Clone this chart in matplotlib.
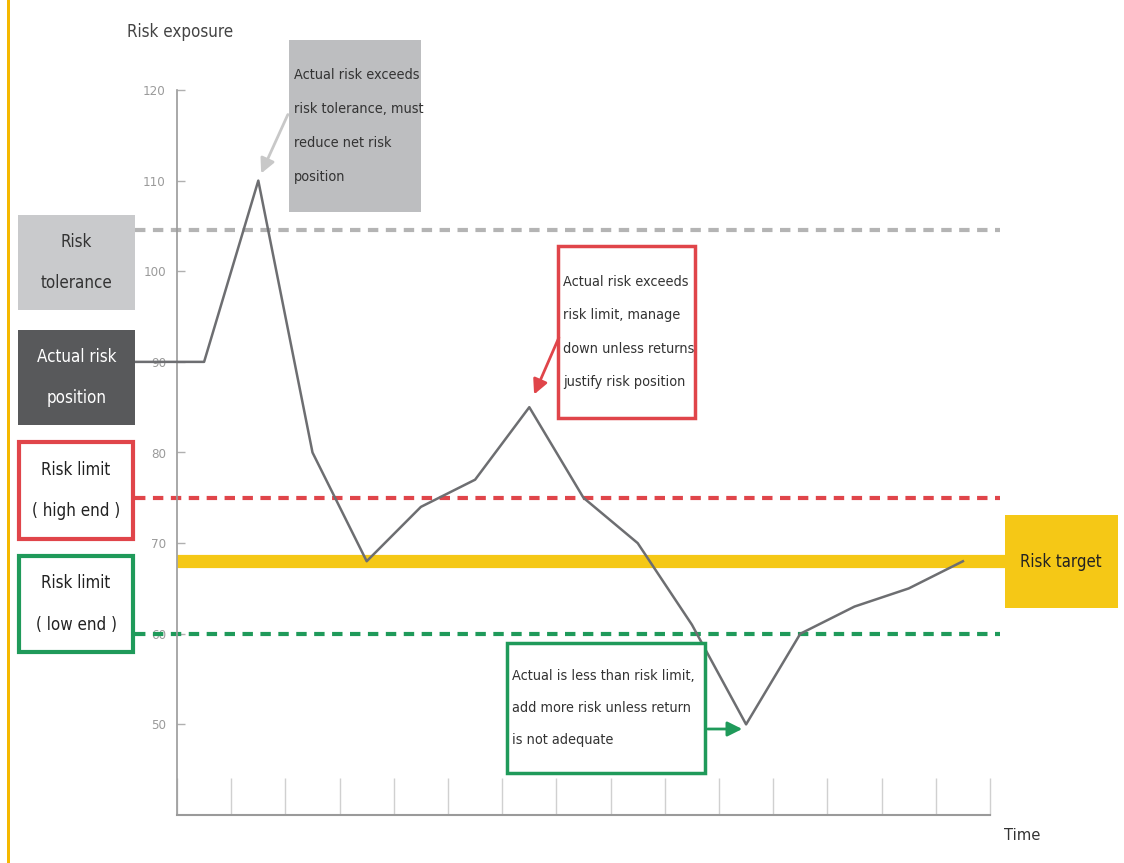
import matplotlib
matplotlib.use("Agg")
import matplotlib.pyplot as plt
from matplotlib.patches import Rectangle, FancyArrowPatch

plt.rcParams['font.family'] = ['DejaVu Sans']
plt.rcParams['font.stretch'] = 'condensed'

# data
time_pos = [-0.77, 0.5, 1.5, 2.5, 3.5, 4.5, 5.5, 6.5, 7.5, 8.5, 9.5, 10.5, 11.5, 12.5, 13.5, 14.5]
risk_exposure = [90, 90, 110, 80, 68, 74, 77, 85, 75, 70, 61, 50, 60, 63, 65, 68]
risk_tolerance = 104.5
limit_high = 75
limit_low = 60
risk_target = 68
y_ticks = [50, 60, 70, 80, 90, 100, 110, 120]

W, H = 1124, 863
fig = plt.figure(figsize=(W / 100, H / 100), dpi=100)


def fx(px):
    return px / W


def fy(py):
    return 1 - py / H


ax = fig.add_axes([fx(177), fy(815), fx(990) - fx(177), fy(90) - fy(815)])
ax.set_xlim(0, 15)
ax.set_ylim(40, 120)

for s in ['top', 'right']:
    ax.spines[s].set_visible(False)
ax.spines['left'].set_color('#9a9a9a')
ax.spines['bottom'].set_color('#9a9a9a')
ax.spines['left'].set_linewidth(1.2)
ax.spines['bottom'].set_linewidth(1.5)

ax.set_xticks(range(16))
ax.set_xticklabels([])
ax.tick_params(axis='x', direction='in', length=27, color='#d0d0d0', width=1)
ax.set_yticks(y_ticks)
ax.set_yticklabels([str(v) for v in y_ticks], fontsize=9.5, color='#9a9a9a')
ax.tick_params(axis='y', direction='in', length=6, color='#b0b0b0', width=1, pad=8)

x_end = 15.18
ax.hlines(risk_tolerance, -0.77, x_end, colors='#b4b4b4', linewidth=3,
          linestyles=(0, (2.5, 1.8)), clip_on=False, zorder=2)
ax.hlines(limit_high, -0.77, x_end, colors='#e0454a', linewidth=3,
          linestyles=(0, (2.5, 1.8)), clip_on=False, zorder=2)
ax.hlines(limit_low, -0.77, x_end, colors='#1f9a5a', linewidth=3,
          linestyles=(0, (2.5, 1.8)), clip_on=False, zorder=2)
ax.hlines(risk_target, 0, 15.3, colors='#f5c816', linewidth=9.5, clip_on=False, zorder=2)

ax.plot(time_pos, risk_exposure, color='#6d6e71', linewidth=1.8, clip_on=False, zorder=4)

# left-side legend boxes
boxes = [
    (18, 215, 117, 95, '#c9cacc', None, 'Risk\ntolerance', '#333333'),
    (18, 330, 117, 95, '#58595b', None, 'Actual risk\nposition', 'white'),
    (19, 442, 114, 97, 'white', '#e0454a', 'Risk limit\n( high end )', '#222222'),
    (19, 556, 114, 96, 'white', '#1f9a5a', 'Risk limit\n( low end )', '#222222'),
]
for x, y, w, h, fc, ec, label, tc in boxes:
    fig.patches.append(Rectangle((fx(x), fy(y + h)), fx(w), h / H, transform=fig.transFigure,
                                 facecolor=fc, edgecolor=ec if ec else 'none',
                                 linewidth=3 if ec else 0, zorder=3))
    fig.text(fx(x + w / 2), fy(y + h / 2), label, ha='center', va='center', fontsize=12.2,
             color=tc, linespacing=2.7, zorder=5)

# risk target tag on the right
fig.patches.append(Rectangle((fx(1005), fy(608)), fx(113), 93 / H, transform=fig.transFigure,
                             facecolor='#f5c816', edgecolor='none', zorder=3))
fig.text(fx(1061), fy(562), 'Risk target', ha='center', va='center', fontsize=12,
         color='#222222', zorder=5)

# annotation boxes
notes = [
    (289, 40, 132, 172, '#bdbec0', None,
     'Actual risk exceeds\nrisk tolerance, must\nreduce net risk\nposition', 2.8),
    (558, 246, 137, 172, 'white', '#e0454a',
     'Actual risk exceeds\nrisk limit, manage\ndown unless returns\njustify risk position', 2.75),
    (507, 643, 198, 130, 'white', '#1f9a5a',
     'Actual is less than risk limit,\nadd more risk unless return\nis not adequate', 2.65),
]
for x, y, w, h, fc, ec, label, ls in notes:
    fig.patches.append(Rectangle((fx(x), fy(y + h)), fx(w), h / H, transform=fig.transFigure,
                                 facecolor=fc, edgecolor=ec if ec else 'none',
                                 linewidth=2.5 if ec else 0, zorder=3))
    fig.text(fx(x + 5), fy(y + h / 2), label, ha='left', va='center', fontsize=10.4,
             color='#333333', linespacing=ls, zorder=5)

arrows = [
    ((289, 112), (260, 176), '#c8c8c8'),
    ((560, 335), (533, 397), '#e0454a'),
    ((705, 729), (745, 729), '#1f9a5a'),
]
for (x0, y0), (x1, y1), c in arrows:
    fig.patches.append(FancyArrowPatch((fx(x0), fy(y0)), (fx(x1), fy(y1)), transform=fig.transFigure,
                                       arrowstyle='-|>', mutation_scale=22, color=c,
                                       linewidth=2, zorder=6))

fig.text(fx(127), fy(32), 'Risk exposure', ha='left', va='center', fontsize=12.2, color='#444444')
fig.text(fx(1004), fy(835), 'Time', ha='left', va='center', fontsize=11.8, color='#333333')

# yellow page rule at left
fig.patches.append(Rectangle((fx(7), 0), fx(2.5), 1, transform=fig.transFigure,
                             facecolor='#f5b800', edgecolor='none'))

fig.savefig('out.png', dpi=100)
